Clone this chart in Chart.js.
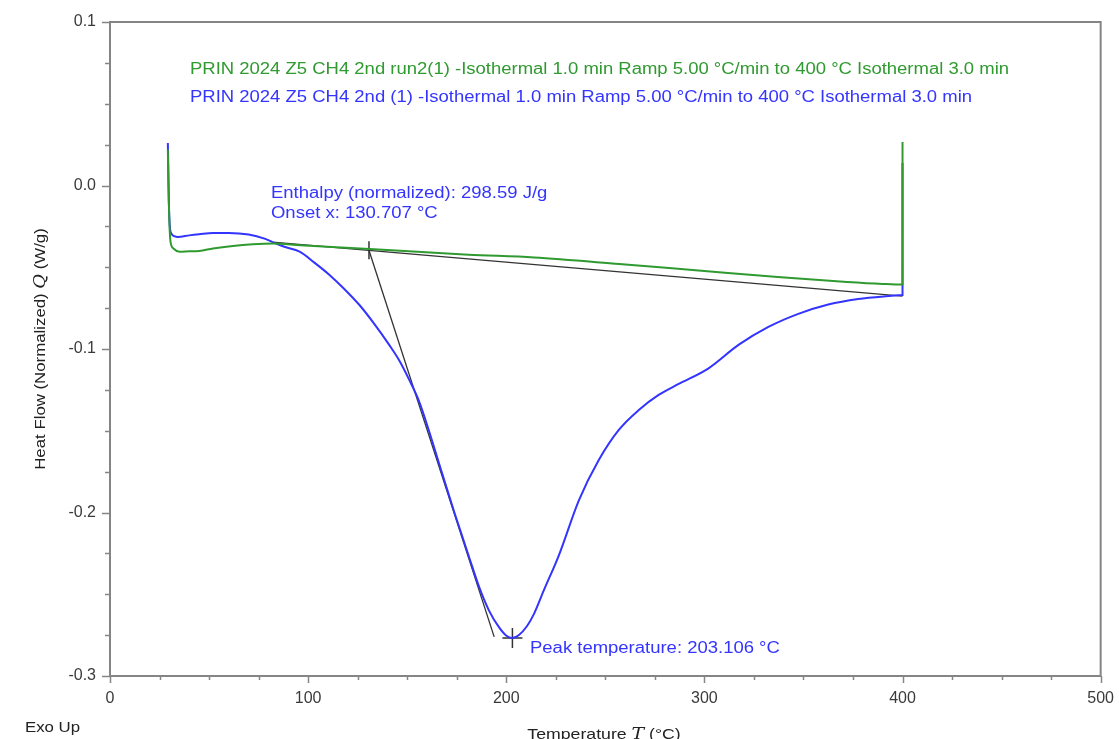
<!DOCTYPE html>
<html>
<head>
<meta charset="utf-8">
<script src="https://cdn.jsdelivr.net/npm/chart.js@4.4.0/dist/chart.umd.min.js"></script>
<style>
  html, body { margin: 0; padding: 0; background: #fff; }
</style>
</head>
<body>
<canvas id="myChart" width="1119" height="739"></canvas>
<script>
// run 2 (green) - temperature (°C) and heat flow (W/g)
var greenT = [29.2, 29.5, 29.9, 30.5, 32, 35.2, 40, 45, 52, 62, 72, 82, 96, 131, 181, 214, 257, 297, 337, 372, 390, 400, 400];
var greenQ = [0.022, 0.0, -0.020, -0.034, -0.0385, -0.0405, -0.0402, -0.040, -0.0385, -0.037, -0.036, -0.0355, -0.0365, -0.0388, -0.0423, -0.044, -0.048, -0.052, -0.056, -0.059, -0.0602, -0.0606, 0.0266];

// run 1 (blue)
var blueT = [29.2, 29.4, 29.7, 30.2, 31.0, 32.5, 34.2, 40, 45, 52, 60, 70, 78, 82, 88, 95.7, 103, 110.8, 118, 125.9, 133, 141, 146, 151.1, 156, 161.1, 166.2, 173.7, 181.3, 186.3, 191.3, 196.4, 199.9, 202.9, 206.4, 210.5, 214, 219, 226.6, 236.7, 246.7, 256.8, 266.9, 276.9, 287.0, 302.1, 317.2, 332.3, 347.4, 362.5, 377.6, 392.7, 400, 400];
var blueQ = [0.026, 0.012, -0.010, -0.025, -0.0295, -0.031, -0.0315, -0.0305, -0.0298, -0.029, -0.029, -0.0300, -0.0325, -0.0346, -0.0375, -0.0405, -0.047, -0.0547, -0.063, -0.0731, -0.084, -0.0976, -0.107, -0.119, -0.132, -0.1505, -0.1705, -0.1995, -0.2275, -0.2455, -0.2600, -0.2703, -0.2752, -0.2768, -0.2749, -0.2694, -0.2620, -0.2475, -0.226, -0.1924, -0.1679, -0.1495, -0.1373, -0.1281, -0.1214, -0.1118, -0.0975, -0.0865, -0.0785, -0.0728, -0.0694, -0.0676, -0.067, 0.0138];

// analysis lines
var baseT = [82.1, 400];
var baseQ = [-0.0346, -0.0676];
var tanT = [130.7, 193.9];
var tanQ = [-0.0396, -0.2761];
var onsetT = 130.707, onsetQ = -0.0396;
var peakT = 203.106, peakQ = -0.2768;

var legendTexts = [
  'PRIN 2024 Z5 CH4 2nd run2(1) -Isothermal 1.0 min Ramp 5.00 °C/min to 400 °C Isothermal 3.0 min',
  'PRIN 2024 Z5 CH4 2nd (1) -Isothermal 1.0 min Ramp 5.00 °C/min to 400 °C Isothermal 3.0 min'
];

var GREEN = '#2f9a2f';
var BLUE = '#3434ff';
var AXIS = '#858585';
var FONT = '"Liberation Sans", Arial, sans-serif';
var ITAL = 'italic 16px "DejaVu Serif", serif';

function pts(xs, ys) {
  var out = [];
  for (var i in xs) {
    out.push({x: xs[i], y: ys[i]});
  }
  return out;
}

// text a bit wider than the font, like the original export
function wideText(ctx, txt, x, y, sx) {
  ctx.save();
  ctx.translate(x, y);
  ctx.scale(sx, 1);
  ctx.fillText(txt, 0, 0);
  ctx.restore();
}

// draws "plain italic plain" centred at 0 along the current direction
function mixedTitle(ctx, parts, sx) {
  var plain = '15px ' + FONT;
  ctx.font = plain;
  var w1 = ctx.measureText(parts[0]).width, w3 = ctx.measureText(parts[2]).width;
  ctx.font = ITAL;
  var w2 = ctx.measureText(parts[1]).width;
  var x0 = -(w1 + w2 + w3) / 2;
  ctx.scale(sx, 1);
  ctx.font = plain;
  ctx.fillText(parts[0], x0, 0);
  ctx.font = ITAL;
  ctx.fillText(parts[1], x0 + w1, 0);
  ctx.font = plain;
  ctx.fillText(parts[2], x0 + w1 + w2, 0);
}

// box, tick marks and texts
var decor = {
  id: 'decor',
  afterDraw: function(chart) {
    var ctx = chart.ctx;
    var a = chart.chartArea;
    var xs = chart.scales.x, ys = chart.scales.y;
    ctx.save();
    ctx.strokeStyle = AXIS;
    ctx.lineWidth = 2;
    ctx.beginPath();
    ctx.moveTo(a.left - 1, a.top);
    ctx.lineTo(a.right, a.top);
    ctx.lineTo(a.right, a.bottom);
    ctx.stroke();

    ctx.lineWidth = 1.5;
    xs.ticks.forEach(function(t) {
      var px = Math.round(xs.getPixelForValue(t.value)) + 0.5;
      var len = (t.value % 100 === 0) ? 7 : 4;
      ctx.beginPath();
      ctx.moveTo(px, a.bottom);
      ctx.lineTo(px, a.bottom + len);
      ctx.stroke();
    });
    ys.ticks.forEach(function(t) {
      var py = Math.round(ys.getPixelForValue(t.value)) + 0.5;
      var major = Math.abs(t.value * 10 - Math.round(t.value * 10)) < 1e-6;
      ctx.beginPath();
      ctx.moveTo(a.left, py);
      ctx.lineTo(a.left - (major ? 8 : 5), py);
      ctx.stroke();
    });

    ctx.textBaseline = 'alphabetic';
    ctx.textAlign = 'left';
    ctx.font = '16px ' + FONT;
    ctx.fillStyle = GREEN;
    wideText(ctx, legendTexts[0], 190, 74, 1.155);
    ctx.fillStyle = BLUE;
    wideText(ctx, legendTexts[1], 190, 102, 1.155);

    wideText(ctx, 'Enthalpy (normalized): 298.59 J/g', 271, 198, 1.155);
    wideText(ctx, 'Onset x: 130.707 °C', 271, 218, 1.155);
    wideText(ctx, 'Peak temperature: 203.106 °C', 530, 653, 1.155);

    // axis titles
    ctx.fillStyle = '#222';
    ctx.font = '15px ' + FONT;
    wideText(ctx, 'Exo Up', 25, 732, 1.12);

    ctx.save();
    ctx.translate(604, 739);
    mixedTitle(ctx, ['Temperature ', 'T', ' (°C)'], 1.18);
    ctx.restore();

    ctx.save();
    ctx.translate(45, 349);
    ctx.rotate(-Math.PI / 2);
    mixedTitle(ctx, ['Heat Flow (Normalized) ', 'Q', ' (W/g)'], 1.12);
    ctx.restore();

    ctx.restore();
  }
};

var ctx = document.getElementById('myChart');

var chart = new Chart(ctx, {
  type: 'scatter',
  data: {
    datasets: [
      {
        label: 'run2',
        data: pts(greenT, greenQ),
        showLine: true,
        borderColor: GREEN,
        borderWidth: 2,
        pointRadius: 0,
        cubicInterpolationMode: 'monotone'
      },
      {
        label: 'run1',
        data: pts(blueT, blueQ),
        showLine: true,
        borderColor: BLUE,
        borderWidth: 2,
        pointRadius: 0,
        cubicInterpolationMode: 'monotone'
      },
      {
        label: 'baseline',
        data: pts(baseT, baseQ),
        showLine: true,
        borderColor: '#333',
        borderWidth: 1.3,
        pointRadius: 0
      },
      {
        label: 'tangent',
        data: pts(tanT, tanQ),
        showLine: true,
        borderColor: '#333',
        borderWidth: 1.3,
        pointRadius: 0
      },
      {
        label: 'onset',
        data: [{x: onsetT, y: onsetQ}],
        pointStyle: 'line',
        rotation: 90,
        pointRadius: 9,
        borderColor: '#333',
        borderWidth: 1.5
      },
      {
        label: 'peak',
        data: [{x: peakT, y: peakQ}],
        pointStyle: 'cross',
        pointRadius: 10,
        borderColor: '#333',
        borderWidth: 1.5
      }
    ]
  },
  plugins: [decor],
  options: {
    responsive: false,
    animation: false,
    devicePixelRatio: 1,
    layout: { padding: { left: 0, right: 16, top: 22, bottom: 0 } },
    plugins: {
      legend: { display: false },
      tooltip: { enabled: false }
    },
    scales: {
      x: {
        type: 'linear',
        min: 0,
        max: 500,
        afterFit: function(s) { s.height = 63; },
        border: { color: AXIS, width: 2 },
        grid: { display: false, drawTicks: true, tickLength: 8 },
        ticks: {
          stepSize: 25,
          autoSkip: false,
          maxRotation: 0,
          padding: 5,
          color: '#3a3a3a',
          font: { family: FONT, size: 16 },
          callback: function(v) { return v % 100 === 0 ? v : ''; }
        }
      },
      y: {
        type: 'linear',
        min: -0.3,
        max: 0.1,
        afterFit: function(s) { s.width = 110; },
        border: { color: AXIS, width: 2 },
        grid: { display: false, drawTicks: true, tickLength: 8 },
        ticks: {
          stepSize: 0.025,
          autoSkip: false,
          padding: 6,
          color: '#3a3a3a',
          font: { family: FONT, size: 16 },
          callback: function(v) {
            if (Math.abs(v * 10 - Math.round(v * 10)) < 1e-6) return v.toFixed(1);
            return '';
          }
        }
      }
    }
  }
});
</script>
</body>
</html>
